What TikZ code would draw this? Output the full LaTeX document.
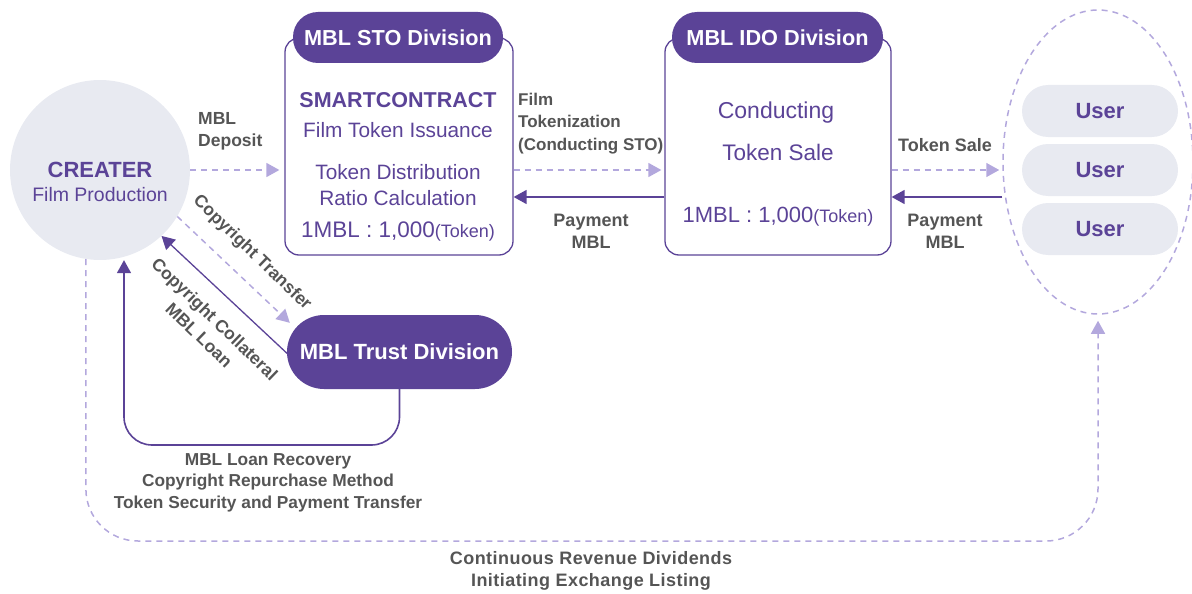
\documentclass[tikz,border=0pt]{standalone}
\usepackage{fontspec}
\setmainfont{Liberation Sans}
\usetikzlibrary{arrows.meta,shapes.geometric,calc}
\definecolor{dp}{HTML}{5B4397}
\definecolor{lp}{HTML}{B3A8DD}
\definecolor{gr}{HTML}{555555}
\definecolor{cf}{HTML}{E8EAF1}
\begin{document}
\begin{tikzpicture}[x=1pt,y=-1pt,
  pillhead/.style={fill=dp, rounded corners=25pt, text=white, inner sep=0pt,
    minimum height=51pt, font=\bfseries\fontsize{21.7}{24}\selectfont},
  divbox/.style={draw=dp, line width=1.3pt, rounded corners=14pt, inner sep=0pt},
  userpill/.style={fill=cf, rounded corners=26pt, minimum width=156pt, minimum height=52pt,
    inner sep=0pt, text=dp, font=\bfseries\fontsize{22}{26}\selectfont},
  ptxt/.style={text=dp, inner sep=0pt, font=\fontsize{20.8}{23}\selectfont},
  ptxtb/.style={text=dp, inner sep=0pt, font=\bfseries\fontsize{21.5}{23}\selectfont},
  ptxtl/.style={text=dp, inner sep=0pt, font=\fontsize{22.5}{26}\selectfont},
  glab/.style={text=gr, inner sep=0pt, align=center, font=\bfseries\fontsize{17.5}{22.5}\selectfont},
  ldash/.style={draw=lp, line width=1.5pt, dash pattern=on 6pt off 5pt,
    -{Triangle[length=13pt,width=14pt,fill=lp]}},
  dsolid/.style={draw=dp, line width=1.6pt, -{Triangle[length=13pt,width=14pt,fill=dp]}}
]
\useasboundingbox (0,0) rectangle (1192,594);

% creator circle
\node[circle, fill=cf, minimum size=180pt, inner sep=0pt] (cr) at (100,170) {};
\node[text=dp, inner sep=0pt, font=\bfseries\fontsize{22}{24}\selectfont] (crt) at (100,170) {CREATER};
\node[text=dp, inner sep=0pt, font=\fontsize{19.5}{22}\selectfont] (crs) at (100,195) {Film Production};

% STO division
\node[divbox, minimum width=228pt, minimum height=217pt] (sto) at (399,146.5) {};
\node[pillhead, minimum width=210pt] (stoh) at (398,37.5) {MBL STO Division};
\node[ptxtb] (s1) at (398,100) {SMARTCONTRACT};
\node[ptxt] (s2) at (398,130) {Film Token Issuance};
\node[ptxt] (s3) at (398,172) {Token Distribution};
\node[ptxt] (s4) at (398,198) {Ratio Calculation};
\node[ptxtl] (s5) at (398,232) {1MBL : 1,000{\fontsize{18}{22}\selectfont(Token)}};

% IDO division
\node[divbox, minimum width=226pt, minimum height=217pt] (ido) at (778,146.5) {};
\node[pillhead, minimum width=211pt] (idoh) at (777.5,37.5) {MBL IDO Division};
\node[ptxtl, font=\fontsize{23}{26}\selectfont] (i1) at (776,113) {Conducting};
\node[ptxtl] (i2) at (778,152) {Token Sale};
\node[ptxtl, font=\fontsize{22}{26}\selectfont] (i3) at (778,217) {1MBL : 1,000{\fontsize{18}{22}\selectfont(Token)}};

% users
\node[ellipse, draw=lp, line width=1.5pt, dash pattern=on 6pt off 5pt,
  minimum width=190pt, minimum height=304pt, inner sep=0pt] (users) at (1098,162) {};
\node[userpill] (u1) at (1100,111) {User};
\node[userpill] (u2) at (1100,170) {User};
\node[userpill] (u3) at (1100,229) {User};

% trust division
\node[fill=dp, rounded corners=37pt, minimum width=225pt, minimum height=74pt, inner sep=0pt,
  text=white, font=\bfseries\fontsize{22}{26}\selectfont] (trust) at (399.5,352) {MBL Trust Division};

% helper rows
\coordinate (r1) at (0,170);
\coordinate (r2) at (0,197);
\coordinate (lb) at (124,445);
\coordinate (bl) at (86,541);

% connectors
\draw[ldash, shorten >=5pt] (cr.east) -- (sto.west |- cr.east);
\draw[ldash, shorten >=3pt] (sto.east |- r1) -- (ido.west |- r1);
\draw[dsolid] (ido.west |- r2) -- (sto.east |- r2);
\draw[ldash, shorten >=3pt] (ido.east |- r1) -- (users.west |- r1);
\draw[dsolid] (users.west |- r2) -- (ido.east |- r2);
\draw[ldash] (cr.-31) -- ($(trust.north west)+(3,8)$);
\draw[draw=dp, line width=1.3pt, -{Triangle[length=13pt,width=14pt,fill=dp]}] ($(trust.west)+(2,3)$) -- (cr.-47);
\draw[dsolid, rounded corners=28pt] (trust.south) |- (lb) -- (lb |- cr.south);
\draw[ldash, rounded corners=52pt, shorten >=6pt] (cr.-99) -- (cr.-99 |- bl) -| (users.south);

% labels
\node[glab, align=left, anchor=west] (l1) at (198,131.5) {MBL\\Deposit};
\node[glab, align=left, anchor=west, font=\bfseries\fontsize{17}{22.5}\selectfont] (l2) at (518,123.5) {Film\\Tokenization\\(Conducting STO)};
\node[glab, font=\bfseries\fontsize{18}{22}\selectfont] (l3) at (591,231) {Payment\\MBL};
\node[glab, font=\bfseries\fontsize{18}{22}\selectfont] (l4) at (945,145) {Token Sale};
\node[glab, font=\bfseries\fontsize{18}{22}\selectfont] (l5) at (945,231) {Payment\\MBL};
\node[glab, rotate=-44] (l6) at (252,253) {Copyright Transfer};
\node[glab, rotate=-44] (l7) at (207,327) {Copyright Collateral\\MBL Loan};
\node[glab, font=\bfseries\fontsize{17.3}{21.5}\selectfont] (l8) at (268,482.5) {MBL Loan Recovery\\Copyright Repurchase Method\\Token Security and Payment Transfer};
\node[glab, font=\bfseries\fontsize{18}{22}\selectfont, execute at begin node={\addfontfeatures{LetterSpace=2.5}}] (l9) at (591,571) {Continuous Revenue Dividends\\Initiating Exchange Listing};
\end{tikzpicture}
\end{document}
